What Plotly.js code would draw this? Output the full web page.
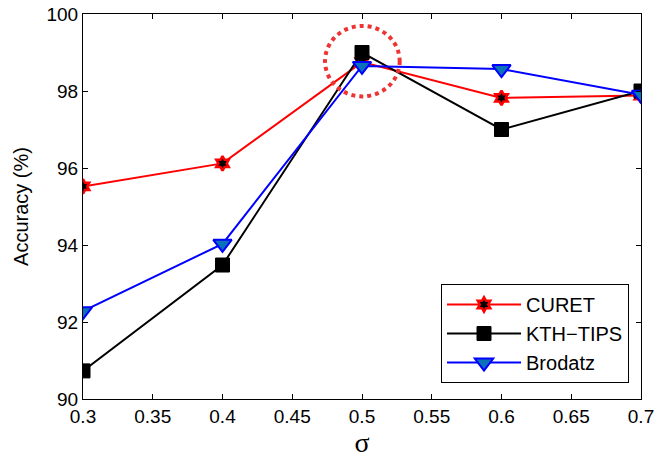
<!DOCTYPE html>
<html><head><meta charset="utf-8">
<script src="https://cdn.plot.ly/plotly-3.0.1.min.js"></script>
<style>body{margin:0;}#c{width:671px;height:460px;}</style>
</head><body><div id="c"></div>
<script>
const sigma = [0.3, 0.4, 0.5, 0.6, 0.7];
const curet = [95.52, 96.12, 98.75, 97.82, 97.88];
const kthTips = [90.73, 93.48, 99.0, 97.0, 98.0];
const brodatz = [92.28, 94.03, 98.65, 98.57, 97.9];
const xTicks = [0.3, 0.35, 0.4, 0.45, 0.5, 0.55, 0.6, 0.65, 0.7];
const xTickText = ['0.3','0.35','0.4','0.45','0.5','0.55','0.6','0.65','0.7'];
const yTicks = [90, 92, 94, 96, 98, 100];

const font = {family: 'Liberation Sans, Arial, sans-serif', color: '#000'};
const traces = [
  {x: sigma, y: curet, name: 'CURET', mode: 'lines+markers',
   line: {color: '#ff0000', width: 2},
   marker: {symbol: 'hexagram', size: 11, color: '#000', line: {color: '#ff0000', width: 2.5}}},
  {x: sigma, y: kthTips, name: 'KTH\u2212TIPS', mode: 'lines+markers',
   line: {color: '#000', width: 2},
   marker: {symbol: 'square', size: 14, color: '#000', line: {color: '#000', width: 1}}},
  {x: sigma, y: brodatz, name: 'Brodatz', mode: 'lines+markers',
   line: {color: '#0000ff', width: 2},
   marker: {symbol: 'triangle-down', size: 16, color: '#0a72b8', line: {color: '#0000ff', width: 2}}}
];
const layout = {
  width: 671, height: 460,
  margin: {l: 83, r: 30, t: 14, b: 61},
  paper_bgcolor: '#fff', plot_bgcolor: '#fff',
  font: Object.assign({size: 19}, font),
  showlegend: true,
  legend: {x: 0.6416, y: 0.2987, xanchor: 'left', yanchor: 'top', bgcolor: '#fff',
    bordercolor: '#000', borderwidth: 1, font: Object.assign({size: 20}, font),
    itemwidth: 74, tracegroupgap: 0},
  xaxis: {range: [0.3, 0.7], tickvals: xTicks, ticktext: xTickText,
    ticks: 'inside', ticklen: 5, tickcolor: '#000', mirror: 'ticks',
    showline: true, linecolor: '#000', linewidth: 1, showgrid: false, zeroline: false,
    tickfont: Object.assign({size: 19}, font),
    title: {text: '\u03c3', font: {family: 'Liberation Serif, serif', size: 28, color: '#000'}, standoff: 4}},
  yaxis: {range: [90, 100], tickvals: yTicks,
    ticks: 'inside', ticklen: 5, tickcolor: '#000', mirror: 'ticks',
    showline: true, linecolor: '#000', linewidth: 1, showgrid: false, zeroline: false,
    tickfont: Object.assign({size: 19}, font),
    title: {text: 'Accuracy (%)', font: Object.assign({size: 20}, font), standoff: 12}},
  shapes: [{type: 'circle', xref: 'x', yref: 'y', x0: 0.4735, x1: 0.527, y0: 97.86, y1: 99.69,
    line: {color: '#ee3333', width: 4, dash: 'dot'}}]
};
Plotly.newPlot('c', traces, layout, {displayModeBar: false, staticPlot: true});
</script></body></html>
